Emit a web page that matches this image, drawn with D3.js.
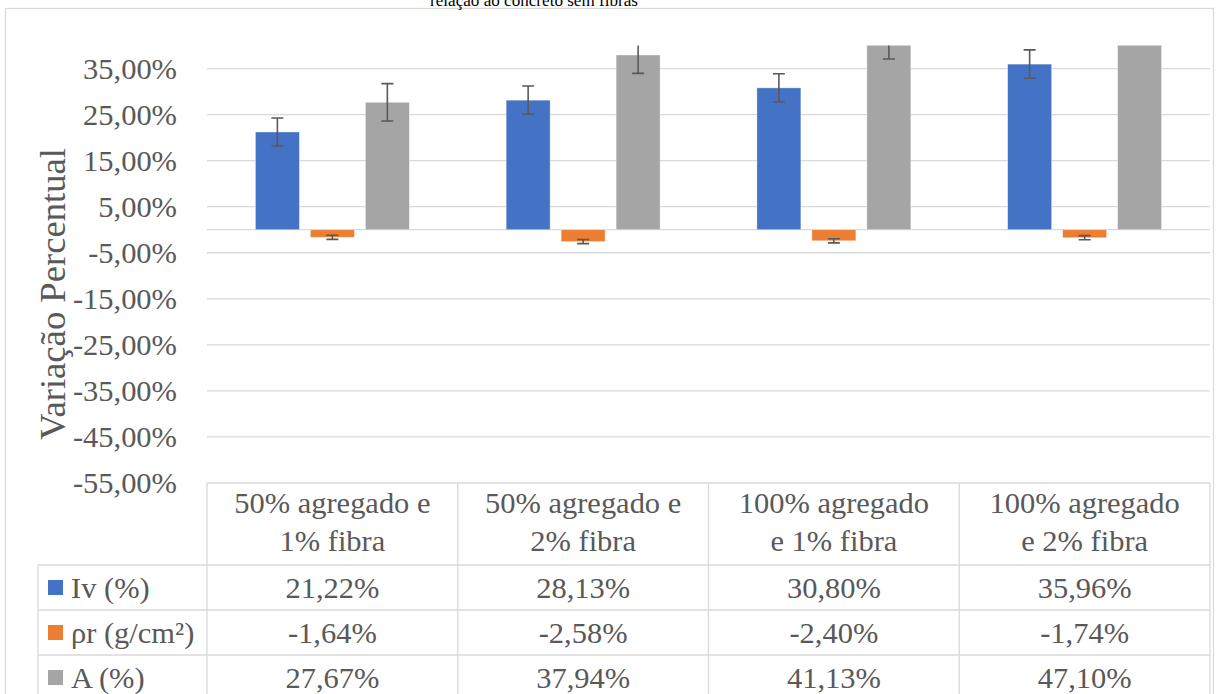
<!DOCTYPE html>
<html>
<head>
<meta charset="utf-8">
<script src="https://cdn.jsdelivr.net/npm/d3@7"></script>
<style>
  html, body { margin: 0; padding: 0; background: #fff; overflow: hidden; }
  svg { display: block; }
  svg text { font-family: "Liberation Serif", Tinos, "Times New Roman", "DejaVu Serif", serif; }
</style>
</head>
<body>
<svg id="chart" width="1216" height="694"></svg>
<script>
"use strict"

// data
var categories = [
	["50% agregado e", "1% fibra"],
	["50% agregado e", "2% fibra"],
	["100% agregado", "e 1% fibra"],
	["100% agregado", "e 2% fibra"]
];
var seriesNames  = ["Iv (%)", "\u03c1r (g/cm\u00b2)", "A (%)"];
var seriesColors = ["#4472C4", "#ED7D31", "#A5A5A5"];
var ivValues  = [21.22, 28.13, 30.80, 35.96];
var rhoValues = [-1.64, -2.58, -2.40, -1.74];
var aValues   = [27.67, 37.94, 41.13, 47.10];
var ivErrors  = [3.05, 3.07, 3.08, 3.08];
var rhoErrors = [0.45, 0.45, 0.45, 0.45];
var aErrors   = [4.05, 4.0, 4.07, 4.0];
var yTicks = [-55, -45, -35, -25, -15, -5, 5, 15, 25, 35];
var yMin = -55, yMax = 40;

var seriesValues = [ivValues, rhoValues, aValues];
var seriesErrors = [ivErrors, rhoErrors, aErrors];

function fmt(v) { return v.toFixed(2).replace(".", ",") + "%"; }

var svg = d3.select("#chart");
var textColor = "#595959";
var gridColor = "#d9d9d9";

// pick a font size so that a sample string gets the width seen in the picture
function fitSize(sample, width) {
	var t = svg.append("text").attr("font-size", 100).text(sample);
	var len = t.node().getComputedTextLength();
	t.remove();
	return 100 * width / len;
}
var fsBody  = fitSize("35,00%", 94);
var fsAxis  = fitSize("Varia\u00e7\u00e3o Percentual", 292);
var fsTitle = fitSize("rela\u00e7\u00e3o ao concreto sem fibras", 208);

var plotL = 207, plotR = 1210, plotT = 45.5, plotB = 483;

// chart border
svg.append("rect")
	.attr("x", 5.5).attr("y", 8.5)
	.attr("width", 1208).attr("height", 700)
	.attr("fill", "none")
	.attr("stroke", gridColor)
	.attr("stroke-width", 1.3);

// title (the top of it is cut off in the original)
svg.append("text")
	.attr("x", 534).attr("y", 6)
	.attr("text-anchor", "middle")
	.attr("font-size", fsTitle)
	.attr("fill", "#000")
	.text("rela\u00e7\u00e3o ao concreto sem fibras");

var y = d3.scaleLinear().domain([yMin, yMax]).range([plotB, plotT]);
var x0 = d3.scaleBand().domain(d3.range(categories.length)).range([plotL, plotR]);
var x1 = d3.scaleBand().domain(d3.range(seriesNames.length))
	.range([0, x0.bandwidth()])
	.paddingInner(0.2)
	.paddingOuter(0.88);

// gridlines
svg.append("g")
	.selectAll("line")
	.data(yTicks.concat([0]))
	.join("line")
		.attr("x1", plotL).attr("x2", plotR)
		.attr("y1", function(d) { return y(d); })
		.attr("y2", function(d) { return y(d); })
		.attr("stroke", gridColor)
		.attr("stroke-width", 1.3);

// y axis labels
var yAxis = d3.axisLeft(y).tickValues(yTicks).tickFormat(fmt).tickSize(0).tickPadding(0);
var gy = svg.append("g")
	.attr("transform", "translate(177,0)")
	.call(yAxis);
gy.select(".domain").remove();
gy.attr("font-family", null).attr("font-size", fsBody);
gy.selectAll("text")
	.attr("fill", textColor);

// axis title
svg.append("text")
	.attr("transform", "translate(52,294) rotate(-90)")
	.attr("text-anchor", "middle")
	.attr("dominant-baseline", "central")
	.attr("font-size", fsAxis)
	.attr("fill", textColor)
	.text("Varia\u00e7\u00e3o Percentual");

// bars
svg.append("clipPath").attr("id", "plotClip")
	.append("rect")
	.attr("x", plotL).attr("y", plotT)
	.attr("width", plotR - plotL).attr("height", plotB - plotT);

var plot = svg.append("g").attr("clip-path", "url(#plotClip)");

seriesValues.forEach(function(vals, s) {
	plot.append("g")
		.selectAll("rect")
		.data(vals)
		.join("rect")
			.attr("x", function(d, i) { return x0(i) + x1(s); })
			.attr("width", x1.bandwidth())
			.attr("y", function(d) { return y(Math.max(0, d)); })
			.attr("height", function(d) { return Math.abs(y(d) - y(0)); })
			.attr("fill", seriesColors[s])
			.attr("stroke", "#fff")
			.attr("stroke-opacity", 0.5)
			.attr("stroke-width", 0.75);
});

// error bars
var capHalf = 6;
seriesValues.forEach(function(vals, s) {
	var errs = seriesErrors[s];
	var g = plot.append("g")
		.attr("stroke", "#595959")
		.attr("stroke-width", 1.6);
	vals.forEach(function(v, i) {
		var cx = x0(i) + x1(s) + x1.bandwidth() / 2;
		var yHi = y(v + errs[i]);
		var yLo = y(v - errs[i]);
		g.append("line").attr("x1", cx).attr("x2", cx).attr("y1", yHi).attr("y2", yLo);
		g.append("line").attr("x1", cx - capHalf).attr("x2", cx + capHalf).attr("y1", yHi).attr("y2", yHi);
		g.append("line").attr("x1", cx - capHalf).attr("x2", cx + capHalf).attr("y1", yLo).attr("y2", yLo);
	});
});

// data table
var legendL = 38;
var headerT = plotB, headerB = 565;
var rowH = 45;
var table = svg.append("g");
var lineAttrs = function(sel) {
	sel.attr("stroke", gridColor).attr("stroke-width", 1.3);
};

// horizontal lines
d3.range(seriesNames.length + 1).forEach(function(r) {
	table.append("line")
		.attr("x1", legendL).attr("x2", plotR)
		.attr("y1", headerB + r * rowH).attr("y2", headerB + r * rowH)
		.call(lineAttrs);
});
// vertical lines
table.append("line")
	.attr("x1", legendL).attr("x2", legendL)
	.attr("y1", headerB).attr("y2", 700)
	.call(lineAttrs);
d3.range(categories.length + 1).forEach(function(c) {
	var xx = plotL + c * x0.bandwidth();
	table.append("line")
		.attr("x1", xx).attr("x2", xx)
		.attr("y1", headerT).attr("y2", 700)
		.call(lineAttrs);
});

// header text
categories.forEach(function(lines, c) {
	var t = table.append("text")
		.attr("text-anchor", "middle")
		.attr("font-size", fsBody)
		.attr("fill", textColor);
	lines.forEach(function(ln, k) {
		t.append("tspan")
			.attr("x", x0(c) + x0.bandwidth() / 2)
			.attr("y", 513 + k * 38)
			.text(ln);
	});
});

// rows
seriesNames.forEach(function(name, s) {
	var rowMid = headerB + s * rowH + rowH / 2;
	table.append("rect")
		.attr("x", 48).attr("y", rowMid - 7.5)
		.attr("width", 15).attr("height", 15)
		.attr("fill", seriesColors[s]);
	table.append("text")
		.attr("x", 71).attr("y", rowMid + 10)
		.attr("font-size", fsBody)
		.attr("fill", textColor)
		.text(name);
	seriesValues[s].forEach(function(v, i) {
		table.append("text")
			.attr("x", x0(i) + x0.bandwidth() / 2)
			.attr("y", rowMid + 10)
			.attr("text-anchor", "middle")
			.attr("font-size", fsBody)
			.attr("fill", textColor)
			.text(fmt(v));
	});
});
</script>
</body>
</html>
